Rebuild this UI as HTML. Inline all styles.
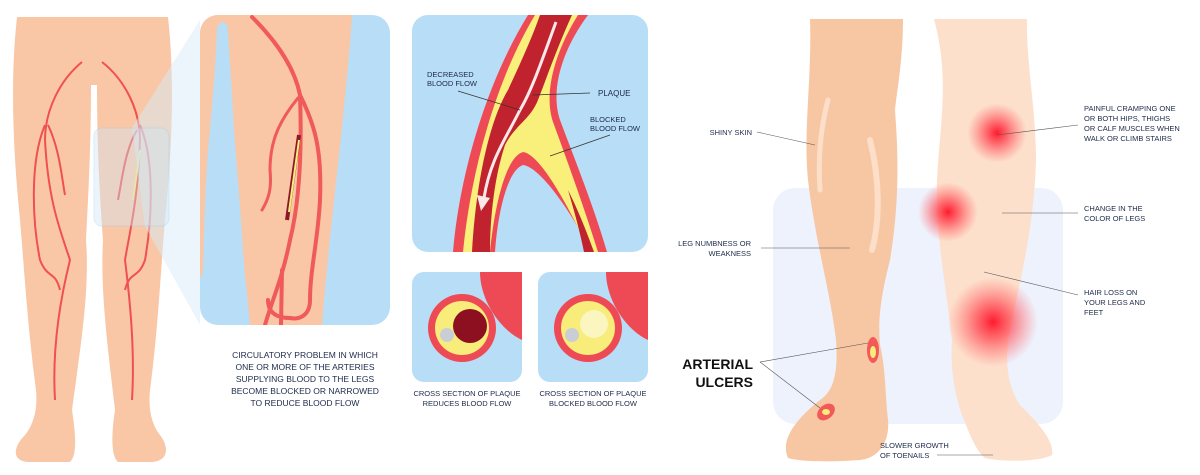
<!DOCTYPE html>
<html><head><meta charset="utf-8"><style>
body{margin:0;width:1200px;height:475px;background:#fff;overflow:hidden;font-family:"Liberation Sans",sans-serif}
svg{display:block}
text{font-family:"Liberation Sans",sans-serif;fill:#1e2a4a;font-size:7.5px}
</style></head><body>
<svg width="1200" height="475" viewBox="0 0 1200 475">
<defs>
<radialGradient id="pain"><stop offset="0" stop-color="#ff1a2e"/><stop offset="0.35" stop-color="#ff4a55" stop-opacity="0.8"/><stop offset="1" stop-color="#ff6b6b" stop-opacity="0"/></radialGradient>
<clipPath id="mag"><rect x="200" y="15" width="190" height="310" rx="18"/></clipPath>
<clipPath id="art"><rect x="412" y="15" width="236" height="237" rx="16"/></clipPath>
</defs>
<!-- LEFT LEGS -->
<path d="M17,17 L168,17 C175,80 172,150 165,220 C160,280 158,330 150,390 C148,410 152,425 160,435 C170,448 168,462 150,462 L118,462 C110,455 112,430 115,410 C108,350 100,290 103,240 C100,200 97,150 97,85 L91,85 C91,150 88,200 86,240 C90,290 80,350 72,410 C75,430 78,455 70,462 L30,462 C12,462 12,448 25,435 C33,425 38,410 36,390 C28,330 25,280 20,220 C13,150 10,80 17,17Z" fill="#f9c7a6"/>
<g stroke="#f05050" stroke-width="2" fill="none">
<path d="M82,62 C60,80 45,110 45,140 C48,200 60,230 70,260 C60,300 52,350 55,400"/>
<path d="M45,125 C30,160 32,220 40,260 C48,280 55,270 60,290"/>
<path d="M48,125 C60,150 62,180 65,195"/>
<path d="M102,62 C125,80 140,110 140,140 C138,200 130,230 125,260 C130,300 135,350 132,400"/>
<path d="M140,125 C155,160 152,220 145,260 C138,280 130,270 125,290"/>
<path d="M137,130 C125,150 122,180 118,200"/>
</g>
<path d="M140,150 L133,200" stroke="#f5e86a" stroke-width="2"/>
<path d="M132,128 L200,20 L200,325 L145,226Z" fill="#d8ebf8" opacity="0.5"/>
<rect x="94" y="128" width="75" height="98" rx="8" fill="#cfe6f6" opacity="0.4" stroke="#9fd0ef"/>
<!-- magnifier -->
<g clip-path="url(#mag)">
<rect x="200" y="15" width="190" height="310" fill="#b8ddf6"/>
<path d="M200,15 L352,15 C345,120 330,220 322,325 L250,325 C248,300 244,270 243,250 C240,200 236,160 234,130 C232,90 229,50 228,30 C228,20 218,20 217,30 C216,60 212,110 208,150 C205,190 204,240 203,270 L200,280Z" fill="#f9c7a6"/>
<g stroke="#f05a5a" stroke-width="4" fill="none" stroke-linecap="round">
<path d="M252,17 C280,45 295,70 300,95 C302,150 300,200 290,240 C282,280 272,300 265,325"/>
<path d="M300,95 C315,125 322,150 320,200 C318,240 310,270 310,300 C310,315 300,320 290,318"/>
<path d="M298,98 C280,120 270,140 270,170 C272,190 268,200 262,210" stroke-width="3"/>
<path d="M268,300 C268,315 280,318 290,318"/>
<path d="M282,270 L281,325"/>
</g>
<path d="M299,135 L287,220" stroke="#8c1828" stroke-width="4"/>
<path d="M299,140 L289,212" stroke="#f5f07a" stroke-width="2"/>
</g>
<!-- artery box -->
<rect x="412" y="15" width="236" height="237" rx="16" fill="#b8ddf6"/>
<g clip-path="url(#art)">
<path d="M528,15 L588,15 C562,50 550,90 560,120 C575,160 595,210 607,252 L592,252 C570,210 540,167 523,165 C508,170 498,210 495,252 L453,252 C460,170 488,80 528,15Z" fill="#ee4a55"/>
<path d="M535,15 L578,15 C556,50 543,92 553,122 C567,160 585,210 598,252 L590,252 C568,205 540,154 523,152 C505,157 494,210 490,252 L463,252 C471,170 496,80 535,15Z" fill="#f8f07a"/>
<path d="M540,15 L572,15 C556,50 546,80 538,100 C530,120 515,125 505,145 C495,175 490,215 490,252 L472,252 C476,180 490,120 508,90 C522,60 533,35 540,15Z" fill="#c0222e"/>
<path d="M568,190 C578,210 586,230 594,252 L584,252 C580,232 574,210 568,190Z" fill="#c0222e"/>
<path d="M556,22 C542,60 532,90 520,110 C505,140 490,160 484,198" stroke="#fde8e8" stroke-width="3" fill="none"/>
<path d="M477,195 L481,211 L490,198Z" fill="#fde8e8"/>
</g>
<g stroke="#333" stroke-width="0.7"><line x1="458" y1="91" x2="520" y2="110"/><line x1="533" y1="95" x2="590" y2="93"/><line x1="550" y1="156" x2="610" y2="135"/></g>
<text x="427" y="77">DECREASED</text><text x="427" y="86">BLOOD FLOW</text>
<text x="598" y="96" style="font-size:8px">PLAQUE</text><text x="590" y="122">BLOCKED</text><text x="590" y="131">BLOOD FLOW</text>
<!-- small boxes -->
<rect x="412" y="272" width="110" height="110" rx="12" fill="#b8ddf6"/>
<rect x="538" y="272" width="110" height="110" rx="12" fill="#b8ddf6"/>
<path d="M480,272 L522,272 L522,340 C500,330 480,300 480,272Z" fill="#ee4a55"/>
<path d="M606,272 L648,272 L648,340 C626,330 606,300 606,272Z" fill="#ee4a55"/>
<circle cx="462" cy="328" r="34" fill="#ee4a55"/><circle cx="462" cy="328" r="27" fill="#f8ec7a"/><circle cx="470" cy="326" r="17" fill="#8c1020"/><circle cx="447" cy="335" r="7" fill="#c9ced6"/>
<circle cx="588" cy="328" r="34" fill="#ee4a55"/><circle cx="588" cy="328" r="27" fill="#f8ec7a"/><circle cx="594" cy="324" r="14" fill="#fbf5c0"/><circle cx="572" cy="335" r="7" fill="#c9ced6"/>
<g text-anchor="middle" font-size="7.5"><text x="467" y="396">CROSS SECTION OF PLAQUE</text><text x="467" y="406">REDUCES BLOOD FLOW</text>
<text x="593" y="396">CROSS SECTION OF PLAQUE</text><text x="593" y="406">BLOCKED BLOOD FLOW</text></g>
<g text-anchor="middle"><text x="305" y="358" style="font-size:8.5px">CIRCULATORY PROBLEM IN WHICH</text><text x="305" y="370" style="font-size:8.5px">ONE OR MORE OF THE ARTERIES</text><text x="305" y="382" style="font-size:8.5px">SUPPLYING BLOOD TO THE LEGS</text><text x="305" y="394" style="font-size:8.5px">BECOME BLOCKED OR NARROWED</text><text x="305" y="406" style="font-size:8.5px">TO REDUCE BLOOD FLOW</text></g>
<!-- RIGHT -->
<rect x="773" y="188" width="290" height="236" rx="22" fill="#eef2fd"/>
<path d="M934,19 L1027,19 C1026,60 1036,110 1036,160 C1034,230 1020,280 1008,340 C1005,370 1010,390 1020,405 C1035,420 1055,440 1052,455 C1040,462 1000,462 985,458 C975,450 968,430 962,415 C955,395 950,370 952,340 C945,280 935,230 937,180 C940,120 950,80 934,19Z" fill="#fde0cc"/>
<path d="M810,19 L903,19 C903,60 897,90 895,110 C898,150 900,200 890,260 C880,300 878,320 880,345 C886,370 885,395 888,420 C890,440 880,458 860,460 C835,462 800,462 788,458 C780,440 795,420 820,400 C835,390 838,370 836,340 C830,290 815,240 808,180 C803,130 812,80 810,19Z" fill="#f7c7a4"/>
<path d="M828,100 C820,130 818,160 820,190" stroke="#fde4d2" stroke-width="5" stroke-linecap="round" fill="none" opacity="0.8"/>
<path d="M870,140 C880,180 880,220 872,250" stroke="#fde4d2" stroke-width="6" stroke-linecap="round" fill="none" opacity="0.8"/>
<circle cx="997" cy="133" r="30" fill="url(#pain)"/>
<circle cx="948" cy="212" r="30" fill="url(#pain)"/>
<circle cx="993" cy="322" r="45" fill="url(#pain)"/>
<ellipse cx="873" cy="350" rx="6" ry="13" fill="#f25a5a"/><ellipse cx="873" cy="352" rx="3" ry="6" fill="#f8ec7a"/>
<ellipse cx="826" cy="412" rx="10" ry="7" transform="rotate(-40 826 412)" fill="#f25a5a"/><ellipse cx="826" cy="412" rx="4" ry="3" fill="#f8ec7a"/>
<g stroke="#555" stroke-width="0.6"><line x1="757" y1="132" x2="815" y2="145"/><line x1="761" y1="248" x2="850" y2="248"/><line x1="997" y1="135" x2="1078" y2="125"/><line x1="1002" y1="213" x2="1078" y2="213"/><line x1="984" y1="272" x2="1078" y2="295"/><line x1="760" y1="362" x2="868" y2="343"/><line x1="760" y1="362" x2="820" y2="408"/><line x1="937" y1="455" x2="993" y2="455"/></g>
<g text-anchor="end"><text x="752" y="135">SHINY SKIN</text>
<text x="751" y="246">LEG NUMBNESS OR</text><text x="751" y="256">WEAKNESS</text>
<text x="753" y="369" style="font-size:14px;font-weight:bold;fill:#111">ARTERIAL</text><text x="753" y="387" style="font-size:14px;font-weight:bold;fill:#111">ULCERS</text></g>
<text x="1084" y="111">PAINFUL CRAMPING ONE</text><text x="1084" y="121">OR BOTH HIPS, THIGHS</text><text x="1084" y="131">OR CALF MUSCLES WHEN</text><text x="1084" y="141">WALK OR CLIMB STAIRS</text>
<text x="1084" y="211">CHANGE IN THE</text><text x="1084" y="221">COLOR OF LEGS</text>
<text x="1084" y="295">HAIR LOSS ON</text><text x="1084" y="305">YOUR LEGS AND</text><text x="1084" y="315">FEET</text>
<text x="880" y="448">SLOWER GROWTH</text><text x="880" y="458">OF TOENAILS</text>
</svg>
</body></html>
